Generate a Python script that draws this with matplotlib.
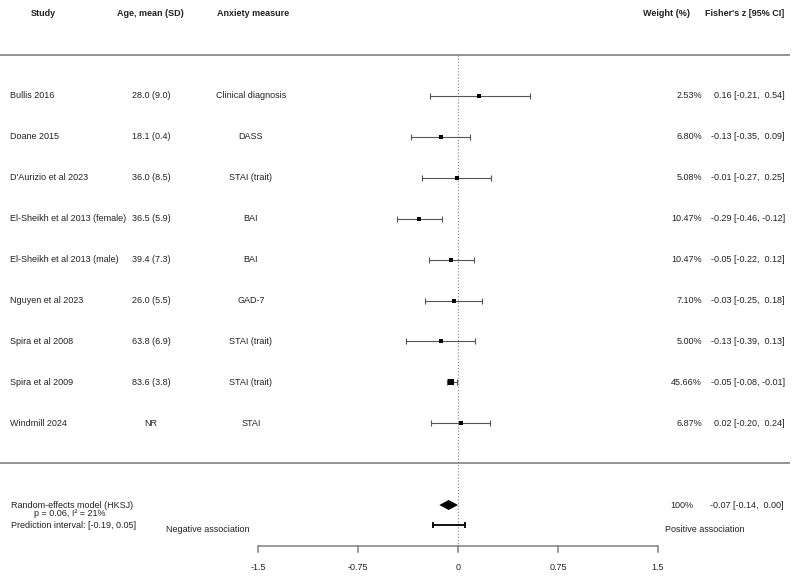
import matplotlib
matplotlib.use("Agg")
import matplotlib.pyplot as plt
import matplotlib.transforms as mtransforms

plt.rcParams["font.family"] = ["Liberation Sans", "DejaVu Sans"]

# ---------------- data ----------------
studies = ["Bullis 2016", "Doane 2015", "D'Aurizio et al 2023",
           "El-Sheikh et al 2013 (female)", "El-Sheikh et al 2013 (male)",
           "Nguyen et al 2023", "Spira et al 2008", "Spira et al 2009",
           "Windmill 2024"]
ages = ["28.0 (9.0)", "18.1 (0.4)", "36.0 (8.5)", "36.5 (5.9)", "39.4 (7.3)",
        "26.0 (5.5)", "63.8 (6.9)", "83.6 (3.8)", "NR"]
measures = ["Clinical diagnosis", "DASS", "STAI (trait)", "BAI", "BAI",
            "GAD-7", "STAI (trait)", "STAI (trait)", "STAI"]
weights = [2.53, 6.80, 5.08, 10.47, 10.47, 7.10, 5.00, 45.66, 6.87]
est = [0.16, -0.13, -0.01, -0.29, -0.05, -0.03, -0.13, -0.05, 0.02]
ci_lo = [-0.21, -0.35, -0.27, -0.46, -0.22, -0.25, -0.39, -0.08, -0.20]
ci_hi = [0.54, 0.09, 0.25, -0.12, 0.12, 0.18, 0.13, -0.01, 0.24]

re_est, re_lo, re_hi = -0.07, -0.14, 0.00
pi_lo, pi_hi = -0.19, 0.05
re_p, re_i2 = 0.06, 21

xticks = [-1.5, -0.75, 0, 0.75, 1.5]
# --------------------------------------

W, H = 800, 577
fig = plt.figure(figsize=(W / 100, H / 100), dpi=100)
ax = fig.add_axes([0, 0, 1, 1])
# x: effect scale, -1.5 at px 258 and 1.5 at px 658 ; y: pixel rows from top
ppu = 400 / 3.0
ax.set_xlim(-1.5 - 258 / ppu, -1.5 + (W - 258) / ppu)
ax.set_ylim(H, 0)
ax.axis("off")

tr = mtransforms.blended_transform_factory(ax.transAxes, ax.transData)
FS = 6.5
TC = "#222222"
LINE = "#808080"


def px(x):
    return x / W


# headers
hy = 14
ax.text(px(31), hy, "Study", transform=tr, fontsize=FS, fontweight="bold", color=TC, va="center")
ax.text(px(117), hy, "Age, mean (SD)", transform=tr, fontsize=FS, fontweight="bold", color=TC, va="center")
ax.text(px(217), hy, "Anxiety measure", transform=tr, fontsize=FS, fontweight="bold", color=TC, va="center")
ax.text(px(643), hy, "Weight (%)", transform=tr, fontsize=FS, fontweight="bold", color=TC, va="center")
ax.text(px(784), hy, "Fisher's z [95% CI]", transform=tr, fontsize=FS, fontweight="bold", color=TC,
        va="center", ha="right")

# separator lines
ax.plot([px(0), px(790)], [55, 55], transform=tr, color=LINE, lw=1.2, solid_capstyle="butt")
ax.plot([px(0), px(790)], [463, 463], transform=tr, color=LINE, lw=1.2, solid_capstyle="butt")

# reference line at 0
ax.plot([0, 0], [55, 551], color="#909090", lw=0.9, ls=(0, (1, 1.5)))

# study rows
y0, dy = 96, 40.9
wmin, wmax = min(weights), max(weights)
for i, name in enumerate(studies):
    y = y0 + i * dy
    ax.text(px(10), y, name, transform=tr, fontsize=FS, color=TC, va="center")
    ax.text(px(151), y, ages[i], transform=tr, fontsize=FS, color=TC, va="center", ha="center")
    ax.text(px(251), y, measures[i], transform=tr, fontsize=FS, color=TC, va="center", ha="center")
    ax.text(px(702), y, f"{weights[i]:.2f}%", transform=tr, fontsize=FS, color=TC,
            va="center", ha="right")
    ax.text(px(785), y, f"{est[i]:.2f} [{ci_lo[i]:.2f}, {ci_hi[i]:5.2f}]",
            transform=tr, fontsize=FS, color=TC, va="center", ha="right")
    ax.plot([ci_lo[i], ci_hi[i]], [y, y], color="#555555", lw=0.8)
    ax.plot([ci_lo[i], ci_hi[i]], [y, y], ls="none", marker="|", color="#555555",
            markersize=4, markeredgewidth=0.8)
    side = 3.6 + (weights[i] - wmin) / (wmax - wmin) * 3.2
    ax.plot(est[i], y, marker="s", color="black", markersize=side / 1.389, markeredgewidth=0)

# summary
sy = 505
ax.fill([re_lo, re_est, re_hi, re_est], [sy, sy - 5, sy, sy + 5], color="black", lw=0)
ax.text(px(11), sy, "Random-effects model (HKSJ)", transform=tr, fontsize=FS, color=TC, va="center")
ax.text(px(34), 513, f"p = {re_p:.2f}, I\u00b2 = {re_i2}%", transform=tr, fontsize=FS, color=TC, va="center")
ax.text(px(693), sy, "100%", transform=tr, fontsize=FS, color=TC, va="center", ha="right")
ax.text(px(784), sy, f"{re_est:.2f} [{re_lo:.2f},  {re_hi:.2f}]", transform=tr, fontsize=FS, color=TC,
        va="center", ha="right")

# prediction interval
py = 525
ax.text(px(11), py, f"Prediction interval: [{pi_lo:.2f}, {pi_hi:.2f}]", transform=tr, fontsize=FS,
        color=TC, va="center")
ax.plot([pi_lo, pi_hi], [py, py], color="black", lw=1.3)
ax.plot([pi_lo, pi_hi], [py, py], ls="none", marker="|", color="black", markersize=5, markeredgewidth=1.3)

ax.text(px(166), 529, "Negative association", transform=tr, fontsize=FS, color=TC, va="center")
ax.text(px(665), 529, "Positive association", transform=tr, fontsize=FS, color=TC, va="center")

# x axis
ay = 546
ax.plot([xticks[0], xticks[-1]], [ay, ay], color=LINE, lw=1.1, solid_capstyle="butt")
for t in xticks:
    ax.plot([t, t], [ay, ay + 6], color=LINE, lw=1.1)
    ax.text(t, 567, f"{t:g}", fontsize=FS, color=TC, va="center", ha="center")

fig.savefig("out.png", dpi=100)
